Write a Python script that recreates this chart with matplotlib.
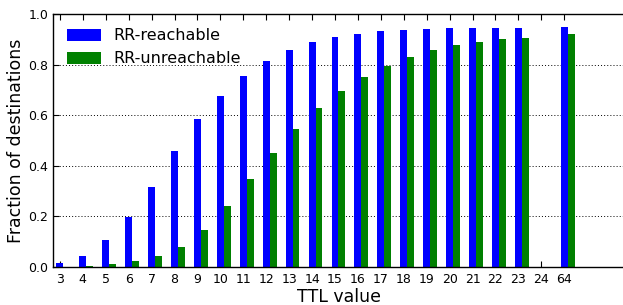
import numpy as np
import matplotlib
matplotlib.use('Agg')
import matplotlib.pyplot as plt

ttl_labels = ['3', '4', '5', '6', '7', '8', '9', '10', '11', '12', '13', '14',
              '15', '16', '17', '18', '19', '20', '21', '22', '23', '24', '64']
reachable = [0.015, 0.042, 0.106, 0.198, 0.316, 0.458, 0.585, 0.676, 0.755, 0.815,
             0.859, 0.890, 0.910, 0.922, 0.934, 0.938, 0.942, 0.946, 0.946, 0.946,
             0.946, 0.0, 0.950]
unreachable = [0.001, 0.003, 0.011, 0.023, 0.042, 0.078, 0.145, 0.240, 0.347, 0.450,
               0.546, 0.629, 0.696, 0.752, 0.795, 0.830, 0.859, 0.878, 0.890, 0.902,
               0.906, 0.0, 0.922]

fig = plt.figure(figsize=(6.23, 3.05), dpi=100)
ax = fig.add_axes([53/623, 1 - 267/305, 572/623, 253/305])

x = np.arange(len(ttl_labels))
w = 0.3
ax.bar(x, reachable, w, color='#0000ff', linewidth=0, label='RR-reachable')
ax.bar(x + w, unreachable, w, color='#008000', linewidth=0, label='RR-unreachable')

ax.set_xlim(-0.3, 24.65)
ax.set_ylim(0, 1.0)
ax.set_xticks(x)
ax.set_xticklabels(ttl_labels, fontsize=9)
ax.set_yticks([0.0, 0.2, 0.4, 0.6, 0.8, 1.0])
ax.set_yticklabels(['0.0', '0.2', '0.4', '0.6', '0.8', '1.0'], fontsize=9)
ax.tick_params(direction='in', top=True, right=False, length=4)
ax.tick_params(axis='x', pad=4)
ax.tick_params(axis='y', pad=3.5)
ax.yaxis.grid(True, linestyle=(0, (1, 2.2)), color='black', linewidth=0.7)
ax.set_axisbelow(True)
for s in ['left', 'bottom', 'top']:
    ax.spines[s].set_linewidth(1.0)
ax.spines['right'].set_visible(False)

ax.set_xlabel('TTL value', fontsize=12.5, labelpad=2)
ax.set_ylabel('Fraction of destinations', fontsize=12.5, labelpad=2.5)
ax.legend(loc='upper left', frameon=False, fontsize=11.5, handlelength=2.1,
          handleheight=0.8, handletextpad=0.8, borderaxespad=0.5, labelspacing=0.5)

fig.savefig('out.png', dpi=100)
